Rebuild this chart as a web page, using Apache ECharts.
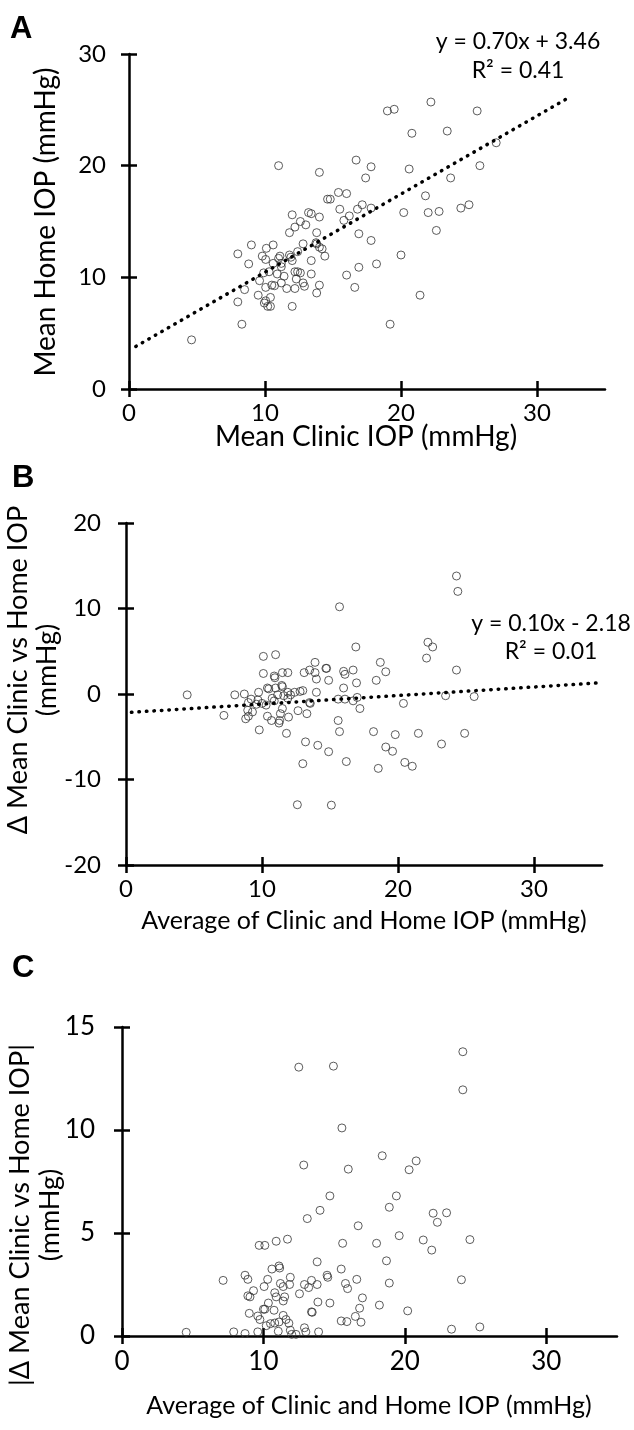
<!DOCTYPE html>
<html><head><meta charset="utf-8">
<script src="https://cdn.jsdelivr.net/npm/echarts@6/dist/echarts.min.js"></script>
<style>html,body{margin:0;padding:0;background:#fff}#c{width:634px;height:1430px}</style>
</head><body><div id="c"></div>
<script>
// ---------- Panel A: mean clinic vs mean home IOP ----------
const aClinic = [4.6,8.3,8.0,8.5,8.0,8.8,9.0,9.5,9.6,9.8,9.95,10.05,10.4,10.2,10.4,10.05,10.5,10.7,9.9,10.3,10.05,10.1,10.6,10.6,10.9,11.2,11.4,11.2,11.6,12.2,12.0,12.3,12.2,12.4,11.0,11.1,11.8,11.9,11.2,12.0,12.4,12.8,11.8,12.2,12.0,12.6,13.0,13.2,13.4,14.0,13.8,13.8,14.0,14.2,14.4,13.4,13.4,12.6,14.0,13.8,12.9,12.8,11.0,14.0,16.7,14.6,14.8,15.4,16.0,15.5,16.2,15.8,16.8,17.15,17.8,16.9,17.8,16.9,16.0,16.6,18.2,17.4,17.8,19.0,19.5,22.2,25.6,20.8,23.4,27.0,25.8,23.65,20.6,21.8,24.4,25.0,20.2,22.0,22.8,22.6,20.0,21.4,19.2,13.75];
const aHome   = [4.4,5.8,7.8,8.9,12.1,11.2,12.9,8.4,9.7,11.9,7.7,7.9,8.2,7.4,7.4,9.1,9.3,9.25,10.4,10.5,11.6,12.6,12.9,11.25,10.3,10.95,10.1,9.5,9.0,9.0,7.4,9.85,10.5,10.5,11.7,11.9,12.0,11.8,11.25,11.5,12.3,13.0,14.0,14.5,15.6,15.0,14.7,15.8,15.7,15.4,14.0,13.0,12.7,12.55,11.9,11.5,10.3,10.4,9.3,8.6,9.2,9.5,20.0,19.4,20.5,17.0,17.0,17.6,17.5,16.1,15.5,15.1,16.1,16.5,16.2,13.9,13.3,10.9,10.2,9.1,11.2,18.9,19.9,24.9,25.05,25.7,24.9,22.9,23.1,22.05,20.0,18.9,19.7,17.3,16.2,16.5,15.8,15.8,15.9,14.2,12.0,8.4,5.8,13.1];
const aTrend = {slope: 0.70, intercept: 3.46, from: 0.5, to: 32.1};
const aEquation = ['y = 0.70x + 3.46', 'R² = 0.41'];

// ---------- Panel B: difference vs average ----------
const bAvg  = [4.5,7.2,8.0,8.7,9.0,8.95,8.8,9.0,9.3,9.8,9.75,10.1,11.0,10.1,10.4,10.5,10.9,10.95,11.0,11.45,11.5,11.5,11.9,11.15,10.75,10.0,9.7,10.4,10.7,11.25,11.3,11.35,11.5,11.95,11.8,11.9,12.4,11.9,13.1,13.5,13.9,13.9,14.0,14.7,14.75,14.9,13.0,14.0,13.5,13.55,12.65,13.3,13.2,14.1,14.9,13.0,16.2,12.6,15.1,15.7,16.9,16.0,16.1,16.7,16.95,16.0,15.6,16.1,16.7,17.0,17.2,15.6,15.7,18.2,18.4,18.55,18.7,24.3,24.4,22.2,22.55,22.1,24.3,19.1,20.4,23.5,25.6,23.2,24.9,21.5,19.8,19.1,19.6,20.5,21.05,9.2,9.6,10.3,10.9,11.6,12.1,12.8];
const bDiff = [-0.1,-2.5,-0.1,0.0,-1.0,-1.9,-2.9,-2.6,-2.1,-4.2,0.2,4.4,4.6,2.4,0.7,0.6,2.1,1.9,0.7,1.0,0.85,2.5,2.5,-0.1,-0.5,-1.1,-0.7,-2.6,-3.1,-3.4,-3.1,-2.3,-1.7,-2.7,-4.6,0.2,0.2,-0.5,2.5,2.8,3.7,2.5,1.75,3.0,3.0,1.6,0.4,0.2,-1.0,-1.1,-1.95,-2.3,-5.6,-6.0,-6.75,-8.15,-7.9,-12.95,-13.0,10.2,5.5,2.65,2.3,2.8,1.3,0.7,-0.6,-0.6,-0.8,-0.4,-1.7,-3.1,-4.4,-4.4,1.6,-8.7,3.7,13.8,12.0,6.05,5.5,4.2,2.8,2.6,-1.1,-0.2,-0.3,-5.85,-4.6,-4.6,-4.75,-6.2,-6.7,-8.0,-8.45,-0.6,-1.2,-1.3,-0.8,-0.2,-0.1,0.3];
const bTrend = {slope: 0.10, intercept: -2.18, from: 0.4, to: 35};
const bEquation = ['y = 0.10x - 2.18', 'R² = 0.01'];

// ---------- Panel C: absolute difference vs average ----------
const cAvg    = [12.5,14.95,15.55,18.4,12.85,16.0,14.7,14.0,13.1,16.7,9.7,10.1,10.9,11.7,15.6,18.0,13.8,11.1,11.15,10.6,7.15,8.7,8.9,9.3,8.9,9.05,10.05,10.3,11.2,11.4,11.85,11.9,10.8,10.9,11.5,11.4,12.55,12.9,13.2,13.4,13.8,14.5,14.55,15.5,15.8,15.95,16.6,17.0,13.85,14.7,13.4,13.45,10.75,10.0,10.1,10.35,9.0,9.6,9.75,10.2,10.5,10.8,11.1,11.4,11.6,11.8,16.8,16.5,16.9,15.5,15.9,4.54,7.9,8.7,9.6,11.05,11.9,12.0,12.3,12.9,13.0,13.9,24.1,24.1,20.8,20.3,19.4,18.9,22.0,22.95,22.3,19.6,21.3,21.9,24.6,18.7,18.9,24.0,18.2,20.2,23.3,25.3];
const cAbsDiff= [13.05,13.1,10.1,8.75,8.3,8.1,6.8,6.1,5.7,5.35,4.4,4.4,4.6,4.7,4.5,4.5,3.6,3.4,3.3,3.25,2.7,2.95,2.75,2.2,1.95,1.9,2.4,2.75,2.55,2.4,2.5,2.85,2.1,1.9,1.9,1.7,2.05,2.5,2.35,2.7,2.5,2.95,2.85,3.25,2.55,2.3,2.75,1.85,1.65,1.6,1.17,1.15,1.25,1.3,1.3,1.6,1.1,0.97,0.8,0.5,0.6,0.63,0.68,1.0,0.8,0.62,1.35,0.95,0.67,0.73,0.7,0.18,0.2,0.12,0.2,0.23,0.28,0.08,0.08,0.4,0.2,0.2,13.8,11.95,8.5,8.07,6.8,6.25,5.96,5.98,5.52,4.87,4.66,4.17,4.68,3.65,2.57,2.73,1.5,1.22,0.33,0.44];

// ---------- tick labels ----------
const xTicks = [0, 10, 20, 30];
const aYTicks = [0, 10, 20, 30];
const bYTicks = [-20, -10, 0, 10, 20];
const cYTicks = [0, 5, 10, 15];

const FONT = 'Lato';
const pairs = (xs, ys) => xs.map((x, i) => [x, ys[i]]);
const trendData = t => [[t.from, t.intercept + t.slope * t.from], [t.to, t.intercept + t.slope * t.to]];

const lineStyle = {color: '#000', width: 2.5};
function makeAxes(dim, gi, min, max, ticks, labelMargin, fontSize) {
  const base = {gridIndex: gi, type: 'value', min: min, max: max, splitLine: {show: false}};
  const a1 = Object.assign({}, base, {
    axisLine: {show: true, onZero: false, lineStyle: lineStyle},
    axisTick: {show: true, inside: false, length: 8, lineStyle: lineStyle, customValues: ticks},
    axisLabel: {show: true, color: '#000', fontFamily: FONT, fontSize: fontSize, margin: labelMargin, customValues: ticks}
  });
  const a2 = Object.assign({}, base, {
    axisLine: {show: false, onZero: false},
    axisTick: {show: true, inside: true, length: 8, lineStyle: lineStyle, customValues: ticks},
    axisLabel: {show: false}
  });
  if (dim === 'x') { a1.position = 'bottom'; a2.position = 'bottom'; }
  else { a1.position = 'left'; a2.position = 'left'; }
  return [a1, a2];
}

const grids = [
  {left: 129, top: 54, width: 476, height: 335},
  {left: 126, top: 523, width: 476, height: 342},
  {left: 122, top: 1027, width: 495, height: 309}
];

const xAxes = [].concat(
  makeAxes('x', 0, 0, 35, xTicks, 12, 24),
  makeAxes('x', 1, 0, 35, xTicks, 12, 24),
  makeAxes('x', 2, 0, 35, xTicks, 13, 26)
);
const yAxes = [].concat(
  makeAxes('y', 0, 0, 30, aYTicks, 23, 24),
  makeAxes('y', 1, -20, 20, bYTicks, 25, 24),
  makeAxes('y', 2, 0, 15, cYTicks, 27, 26)
);

const scatterStyle = {color: 'rgba(0,0,0,0)', borderColor: '#333', borderWidth: 1};
const dotted = {color: '#000', width: 3.5, type: [0.5, 7], cap: 'round'};

const series = [
  {type: 'scatter', xAxisIndex: 0, yAxisIndex: 0, data: pairs(aClinic, aHome), symbolSize: 8, itemStyle: scatterStyle, silent: true},
  {type: 'line', xAxisIndex: 0, yAxisIndex: 0, data: trendData(aTrend), symbol: 'none', lineStyle: dotted, silent: true},
  {type: 'scatter', xAxisIndex: 2, yAxisIndex: 2, data: pairs(bAvg, bDiff), symbolSize: 8, itemStyle: scatterStyle, silent: true},
  {type: 'line', xAxisIndex: 2, yAxisIndex: 2, data: trendData(bTrend), symbol: 'none', lineStyle: dotted, silent: true},
  {type: 'scatter', xAxisIndex: 4, yAxisIndex: 4, data: pairs(cAvg, cAbsDiff), symbolSize: 8, itemStyle: scatterStyle, silent: true}
];

function txt(x, y, text, size, opts) {
  return Object.assign({
    type: 'text', x: x, y: y,
    style: Object.assign({text: text, fill: '#000', font: size + 'px ' + FONT,
      align: 'center', verticalAlign: 'middle'}, (opts && opts.style) || {})
  }, (opts && opts.el) || {});
}
const ROT = Math.PI / 2;
const LETTER = {style: {align: 'left', font: 'bold 31px "Liberation Sans"'}};
const graphic = [
  txt(10, 29, 'A', 31, LETTER),
  txt(12, 478, 'B', 31, LETTER),
  txt(12, 968, 'C', 31, LETTER),
  txt(518, 42, aEquation[0], 23),
  txt(518, 71, aEquation[1], 23),
  txt(551, 624, bEquation[0], 23),
  txt(551, 652, bEquation[1], 23),
  txt(366, 437, 'Mean Clinic IOP (mmHg)', 28),
  txt(364, 921, 'Average of Clinic and Home IOP (mmHg)', 25),
  txt(369, 1406, 'Average of Clinic and Home IOP (mmHg)', 25),
  txt(46, 222, 'Mean Home IOP (mmHg)', 28, {el: {rotation: ROT}}),
  txt(18, 670, 'Δ Mean Clinic vs Home IOP', 27, {el: {rotation: ROT}}),
  txt(47, 670, '(mmHg)', 27, {el: {rotation: ROT}}),
  txt(20, 1215, '|Δ Mean Clinic vs Home IOP|', 27, {el: {rotation: ROT}}),
  txt(50, 1215, '(mmHg)', 27, {el: {rotation: ROT}})
];

const chart = echarts.init(document.getElementById('c'), null, {renderer: 'canvas'});
chart.setOption({
  animation: false,
  backgroundColor: '#fff',
  grid: grids,
  xAxis: xAxes,
  yAxis: yAxes,
  series: series,
  graphic: graphic
});
</script></body></html>
